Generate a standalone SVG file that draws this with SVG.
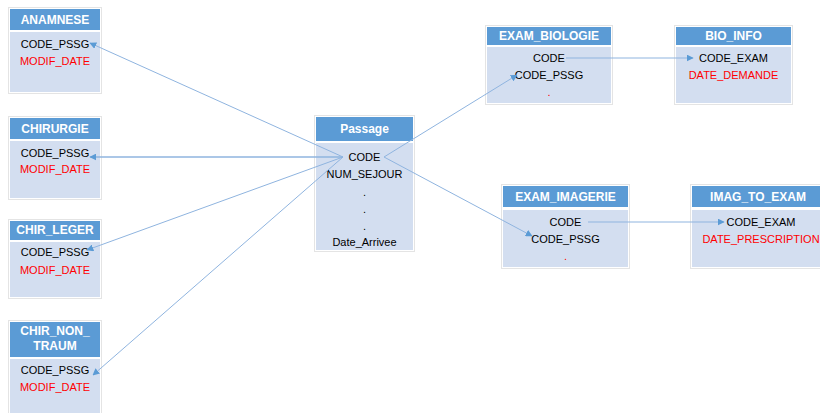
<svg xmlns="http://www.w3.org/2000/svg" width="820" height="413" viewBox="0 0 820 413">
<defs>
<style>
.frame{fill:#ffffff;stroke:#e4e4e4;stroke-width:1}
.hd{fill:#5b9bd5}
.bd{fill:#d3def0}
.ht{font-family:"Liberation Sans",Arial,sans-serif;font-size:12px;font-weight:bold;fill:#ffffff;text-anchor:middle}
.t{font-family:"Liberation Sans",Arial,sans-serif;font-size:11px;fill:#000000;text-anchor:middle}
.r{fill:#ff0000}
.c{stroke:#8fb4df;stroke-width:1;fill:none;marker-end:url(#ah)}
</style>
<marker id="ah" viewBox="0 0 10 10" refX="9" refY="5" markerWidth="7" markerHeight="7" markerUnits="userSpaceOnUse" orient="auto">
<path d="M0,0 L10,5 L0,10 z" fill="#5b9bd5"/>
</marker>
</defs>
<rect width="820" height="413" fill="#ffffff"/>

<g id="ANAMNESE">
<rect class="frame" x="8.5" y="7.5" width="93" height="86"/>
<rect class="hd" x="10" y="9" width="90" height="21"/>
<rect class="bd" x="10" y="32" width="90" height="60"/>
<text class="ht" x="55" y="24">ANAMNESE</text>
<text class="t" x="55" y="48">CODE_PSSG</text>
<text class="t r" x="55" y="65">MODIF_DATE</text>
</g>

<g id="CHIRURGIE">
<rect class="frame" x="8.5" y="116.5" width="93" height="83"/>
<rect class="hd" x="10" y="118" width="90" height="21"/>
<rect class="bd" x="10" y="141" width="90" height="57"/>
<text class="ht" x="55" y="133">CHIRURGIE</text>
<text class="t" x="55" y="157">CODE_PSSG</text>
<text class="t r" x="55" y="173">MODIF_DATE</text>
</g>

<g id="CHIR_LEGER">
<rect class="frame" x="8.5" y="219.5" width="93" height="79"/>
<rect class="hd" x="10" y="221" width="90" height="19"/>
<rect class="bd" x="10" y="242" width="90" height="55"/>
<text class="ht" x="55" y="234">CHIR_LEGER</text>
<text class="t" x="55" y="256">CODE_PSSG</text>
<text class="t r" x="55" y="274">MODIF_DATE</text>
</g>

<g id="CHIR_NON_TRAUM">
<rect class="frame" x="8.5" y="320.5" width="93" height="100"/>
<rect class="hd" x="10" y="322" width="90" height="35"/>
<rect class="bd" x="10" y="359" width="90" height="60"/>
<text class="ht" x="55" y="335">CHIR_NON_</text>
<text class="ht" x="55" y="350">TRAUM</text>
<text class="t" x="55" y="374">CODE_PSSG</text>
<text class="t r" x="55" y="391">MODIF_DATE</text>
</g>

<g id="Passage">
<rect class="frame" x="314.5" y="115.5" width="100" height="136"/>
<rect class="hd" x="316" y="117" width="97" height="24"/>
<rect class="bd" x="316" y="143" width="97" height="107"/>
<text class="ht" x="364.5" y="133">Passage</text>
<text class="t" x="364.5" y="161">CODE</text>
<text class="t" x="364.5" y="178">NUM_SEJOUR</text>
<text class="t" x="364.5" y="196">.</text>
<text class="t" x="364.5" y="213">.</text>
<text class="t" x="364.5" y="230">.</text>
<text class="t" x="364.5" y="246">Date_Arrivee</text>
</g>

<g id="EXAM_BIOLOGIE">
<rect class="frame" x="485.5" y="25.5" width="127" height="79"/>
<rect class="hd" x="487" y="27" width="124" height="18"/>
<rect class="bd" x="487" y="47" width="124" height="56"/>
<text class="ht" x="549" y="40">EXAM_BIOLOGIE</text>
<text class="t" x="549" y="62">CODE</text>
<text class="t" x="549" y="79">CODE_PSSG</text>
<text class="t r" x="549" y="96">.</text>
</g>

<g id="BIO_INFO">
<rect class="frame" x="674.5" y="25.5" width="118" height="79"/>
<rect class="hd" x="676" y="27" width="115" height="18"/>
<rect class="bd" x="676" y="47" width="115" height="56"/>
<text class="ht" x="733.5" y="40">BIO_INFO</text>
<text class="t" x="733.5" y="62">CODE_EXAM</text>
<text class="t r" x="733.5" y="79">DATE_DEMANDE</text>
</g>

<g id="EXAM_IMAGERIE">
<rect class="frame" x="501.5" y="184.5" width="128" height="84"/>
<rect class="hd" x="503" y="186" width="125" height="21"/>
<rect class="bd" x="503" y="210" width="125" height="57"/>
<text class="ht" x="565.5" y="201">EXAM_IMAGERIE</text>
<text class="t" x="565.5" y="226">CODE</text>
<text class="t" x="565.5" y="243">CODE_PSSG</text>
<text class="t r" x="565.5" y="260">.</text>
</g>

<g id="IMAG_TO_EXAM">
<rect class="frame" x="690.5" y="184.5" width="143" height="84"/>
<rect class="hd" x="692" y="186" width="140" height="21"/>
<rect class="bd" x="692" y="210" width="140" height="57"/>
<text class="ht" x="758" y="201">IMAG_TO_EXAM</text>
<text class="t" x="761" y="226">CODE_EXAM</text>
<text class="t r" x="761" y="243">DATE_PRESCRIPTION</text>
</g>

<g id="connectors">
<line class="c" x1="343" y1="157" x2="90" y2="43"/>
<line class="c" x1="343" y1="157" x2="90" y2="157" style="stroke-width:1.6"/>
<line class="c" x1="343" y1="157" x2="87" y2="250"/>
<line class="c" x1="343" y1="157" x2="93" y2="375"/>
<line class="c" x1="384" y1="157" x2="517" y2="75"/>
<line class="c" x1="384" y1="157" x2="532" y2="236"/>
<line class="c" x1="566" y1="58" x2="693" y2="58"/>
<line class="c" x1="588" y1="222" x2="724" y2="222"/>
</g>
</svg>
